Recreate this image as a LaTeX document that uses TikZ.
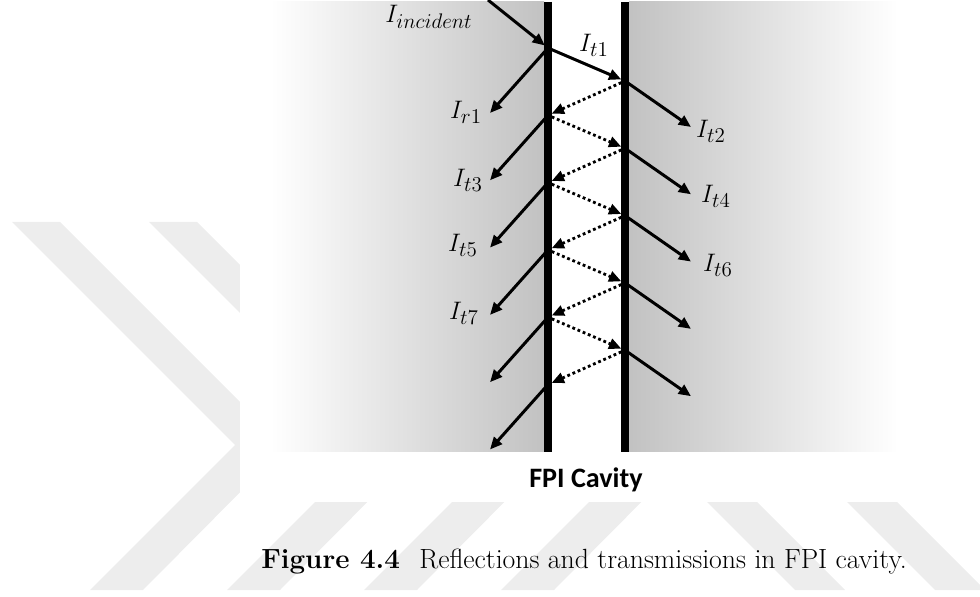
\documentclass[tikz,border=0pt]{standalone}
\usepackage{fontspec}
\newfontfamily\calibri{Carlito}
\usepackage{amsmath,amssymb}
\usepackage{tikz}
\usetikzlibrary{arrows.meta, calc}
\DeclareMathSizes{14}{14}{11.5}{9}

\begin{document}
\begin{tikzpicture}[x=0.02cm, y=-0.02cm, >={Triangle[length=7pt, width=6pt]},
    ray/.style={->, line width=1.7pt},
    bounce/.style={->, line width=1.6pt, dash pattern=on 1.6pt off 1.6pt, shorten <=2.3pt, shorten >=2.3pt},
    mirror/.style={line width=4.5pt},
    lbl/.style={font=\fontsize{14}{17}\selectfont, inner sep=0pt}]
      \colorlet{panelgray}{black!24} \colorlet{markgray}{black!7}
      \useasboundingbox (0,0) rectangle (980,597);
      % watermark behind the figure
      \foreach \s in {0,137,274,411}
        \fill[markgray] (12+\s,222) -- (60+\s,222) -- (285+\s,447) -- (143+\s,590) -- (90+\s,590) -- (235+\s,445) -- cycle;
      \fill[markgray] (675,470) -- (725,470) -- (845,590) -- (795,590) -- cycle;
      \fill[markgray] (815,470) -- (865,470) -- (985,590) -- (935,590) -- cycle;
      \fill[white] (240,0) rectangle (980,502);
      % media and the two mirrors
      \shade[left color=white, right color=panelgray] (270,2) rectangle (544,452);
      \shade[left color=panelgray, right color=white] (629,2) rectangle (898,452);
      \draw[mirror] (548,2) -- (548,452);
      \draw[mirror] (625,2) -- (625,452);
      % hit points on the mirrors
      \coordinate (inc) at (488,0);
      \foreach \i in {0,...,5} {
        \coordinate (L\i) at (548, 48+67.3*\i);
        \coordinate (l\i) at ($(L\i)+(-58,65)$);
      }
      \foreach \i in {1,...,5} {
        \coordinate (R\i) at (625, 13.7+67.3*\i);
        \coordinate (r\i) at ($(R\i)+(66,46)$);
      }
      \draw[ray, shorten >=2.3pt] (inc) -- (L0);
      \draw[ray, shorten >=2.3pt] (L0) -- (R1);
      \foreach \i in {0,...,5} \draw[ray] (L\i) -- (l\i);
      \foreach \i in {1,...,5} \draw[ray] (R\i) -- (r\i);
      \foreach \i in {1,...,5} \draw[bounce] (R\i) -- (L\i);
      \foreach \i [count=\j from 2] in {1,...,4} \draw[bounce] (L\i) -- (R\j);
      % labels
      \node[lbl] (Iinc) at (429,17) {$I_{incident}$};
      \node[lbl] (It1) at (594,45) {$I_{t1}$};
      \node[lbl] (Ir1) at (466,112) {$I_{r1}$};
      \node[lbl] (It3) at (468,180) {$I_{t3}$};
      \node[lbl] (It5) at (463,245) {$I_{t5}$};
      \node[lbl] (It7) at (464,313) {$I_{t7}$};
      \node[lbl] (It2) at (711,131) {$I_{t2}$};
      \node[lbl] (It4) at (716,196) {$I_{t4}$};
      \node[lbl] (It6) at (718,265) {$I_{t6}$};
      \node[font=\calibri\bfseries\fontsize{16}{19}\selectfont, anchor=base] (fpi) at (586,487) {FPI Cavity};
      \node[font=\fontsize{15.8}{19}\selectfont, anchor=base] (cap) at (584,568) {\textbf{Figure 4.4}\hspace{0.7em}Reflections and transmissions in FPI cavity.};
    \end{tikzpicture}
\end{document}
